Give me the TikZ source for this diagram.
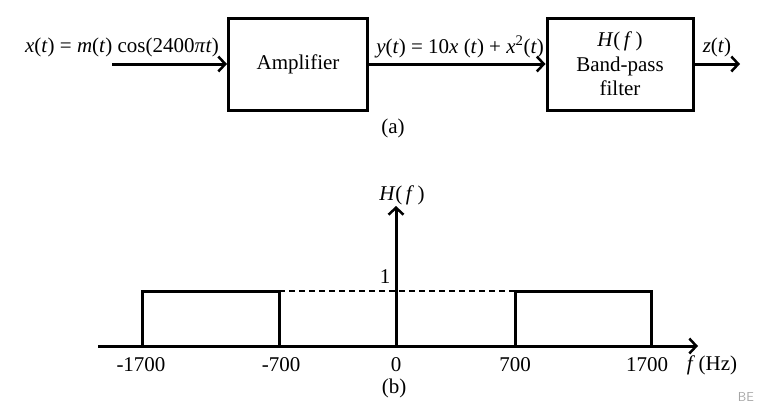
\documentclass[tikz,border=0pt]{standalone}
\usepackage{fontspec}
\setmainfont{Liberation Serif}
\usetikzlibrary{arrows.meta}
\begin{document}
\begin{tikzpicture}[x=1pt,y=-1pt,
  txt/.style={font=\fontsize{21}{24}\selectfont, inner sep=0pt},
  blockbox/.style={draw, line width=3pt, minimum height=92pt, align=center, font=\fontsize{21}{24.5}\selectfont},
  arr/.style={line width=3pt, -{Straight Barb[length=7pt,width=15pt,line width=2.5pt]}},
  thick3/.style={line width=3pt},
  dashline/.style={line width=1.5pt, dash pattern=on 6pt off 4pt}]
\useasboundingbox (0,0) rectangle (767,410);
% (a) block diagram
\node[blockbox, minimum width=139pt] (amp) at (298,64) {Amplifier};
\node[blockbox, minimum width=146pt] (bpf) at (620,64) {\textit{H}(\,\textit{f}\,)\\Band-pass\\filter};
\coordinate (in) at (112,64);
\coordinate (out) at (740,64);
\draw[arr] (in) -- (amp.west);
\draw[arr] (amp.east) -- (bpf.west);
\draw[arr] (bpf.east) -- (out);
\node[txt] (lx) at (122,47) {\textit{x}(\textit{t}) = \textit{m}(\textit{t}) cos(2400\textit{π}\textit{t})};
\node[txt] (ly) at (460,47) {\textit{y}(\textit{t}) = 10\textit{x} (\textit{t}) + \textit{x}\textsuperscript{2}(\textit{t})};
\node[txt] (lz) at (717,47) {\textit{z}(\textit{t})};
\node[txt] (la) at (393,128) {(a)};
% (b) frequency response
\coordinate (xl) at (98,346);
\coordinate (xr) at (698,346);
\coordinate (o) at (396,346);
\coordinate (yt) at (396,206);
\coordinate (a1) at (142,346);
\coordinate (a2) at (142,291);
\coordinate (a3) at (279,291);
\coordinate (a4) at (279,346);
\coordinate (b1) at (515,346);
\coordinate (b2) at (515,291);
\coordinate (b3) at (651,291);
\coordinate (b4) at (651,346);
\draw[arr] (xl) -- (xr);
\draw[arr] (o) -- (yt);
\draw[thick3] (a1) -- (a2) -- (a3) -- (a4);
\draw[thick3] (b1) -- (b2) -- (b3) -- (b4);
\draw[dashline] (a3) -- (b2);
\node[txt] (lh) at (402,195) {\textit{H}(\,\textit{f}\,)};
\node[txt] (l1) at (385,277) {1};
\node[txt] (t1) at (141,365) {-1700};
\node[txt] (t2) at (281,365) {-700};
\node[txt] (t3) at (396,365) {0};
\node[txt] (t4) at (515,365) {700};
\node[txt] (t5) at (647,365) {1700};
\node[txt] (t6) at (712,365) {\textit{f}\,(Hz)};
\node[txt] (lb) at (394,388) {(b)};
\node[inner sep=0pt, text=black!35, font=\fontsize{13}{15}\sffamily] (be) at (746,397) {BE};
\end{tikzpicture}
\end{document}
